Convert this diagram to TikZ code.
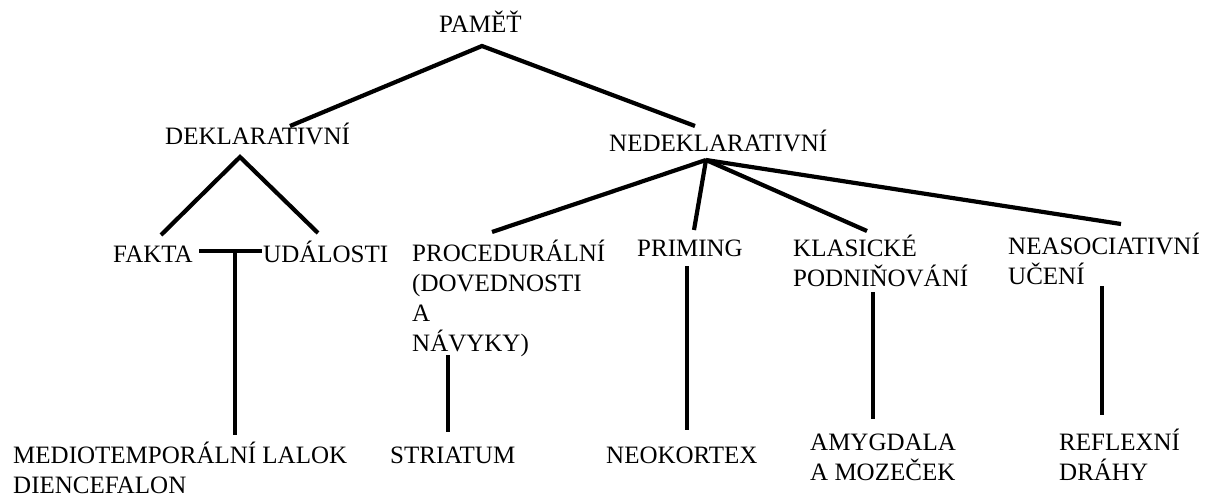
\documentclass[tikz,border=0pt]{standalone}
\usepackage{fontspec}
\setmainfont{Liberation Serif}
\begin{document}
\begin{tikzpicture}[x=1pt,y=-1pt,
  lbl/.style={anchor=base west, inner sep=0pt, align=left, font=\fontsize{25}{30}\selectfont},
  conn/.style={line width=4.2pt, line cap=butt, line join=miter},
  vconn/.style={line width=3.8pt}]
\useasboundingbox (0,0) rectangle (1221,497);
\fill[white] (0,0) rectangle (1221,497);
% labels (multi-line labels are placed by the baseline of their last line)
\node[lbl] (pamet) at (439,33) {PAMĚŤ};
\node[lbl] (dekl) at (165,145) {DEKLARATIVNÍ};
\node[lbl] (nedekl) at (609,152) {NEDEKLARATIVNÍ};
\node[lbl] (fakta) at (113,262) {FAKTA};
\node[lbl] (udal) at (263,262) {UDÁLOSTI};
\node[lbl] (proc) at (412,351) {PROCEDURÁLNÍ\\(DOVEDNOSTI\\A\\NÁVYKY)};
\node[lbl] (prim) at (637,257) {PRIMING};
\node[lbl] (klas) at (793,287) {KLASICKÉ\\PODNIŇOVÁNÍ};
\node[lbl] (neas) at (1008,284) {NEASOCIATIVNÍ\\UČENÍ};
\node[lbl] (medio) at (13,493) {MEDIOTEMPORÁLNÍ LALOK\\DIENCEFALON};
\node[lbl] (striat) at (390,463) {STRIATUM};
\node[lbl] (neok) at (606,463) {NEOKORTEX};
\node[lbl] (amyg) at (810,480) {AMYGDALA\\A MOZEČEK};
\node[lbl] (refl) at (1059,480) {REFLEXNÍ\\DRÁHY};
% connector end points
\coordinate (pametB) at (482,46);
\coordinate (deklT) at (290,126);
\coordinate (nedeklT) at (695,126);
\coordinate (deklB) at (240,157);
\coordinate (faktaT) at (161,235);
\coordinate (udalT) at (318,233);
\coordinate (nedeklB) at (706,160);
\coordinate (procT) at (492,232);
\coordinate (primT) at (694,230);
\coordinate (klasT) at (867,231);
\coordinate (neasT) at (1121,224);
\coordinate (faktaR) at (199,251);
\coordinate (udalL) at (262,251);
\coordinate (fuMid) at (235,251);
\coordinate (medioT) at (235,435);
\coordinate (procB) at (448,355);
\coordinate (striatT) at (448,432);
\coordinate (primB) at (687,266);
\coordinate (neokT) at (687,430);
\coordinate (klasB) at (873,292);
\coordinate (amygT) at (873,419);
\coordinate (neasB) at (1102,286);
\coordinate (reflT) at (1102,415);
% connectors
\draw[conn] (deklT) -- (pametB) -- (nedeklT);
\draw[conn] (faktaT) -- (deklB) -- (udalT);
\draw[conn] (nedeklB) -- (procT);
\draw[conn] (nedeklB) -- (primT);
\draw[conn] (nedeklB) -- (klasT);
\draw[conn] (nedeklB) -- (neasT);
\draw[conn] (faktaR) -- (udalL);
\draw[vconn] (fuMid) -- (medioT);
\draw[vconn] (procB) -- (striatT);
\draw[vconn] (primB) -- (neokT);
\draw[vconn] (klasB) -- (amygT);
\draw[vconn] (neasB) -- (reflT);
\end{tikzpicture}
\end{document}
